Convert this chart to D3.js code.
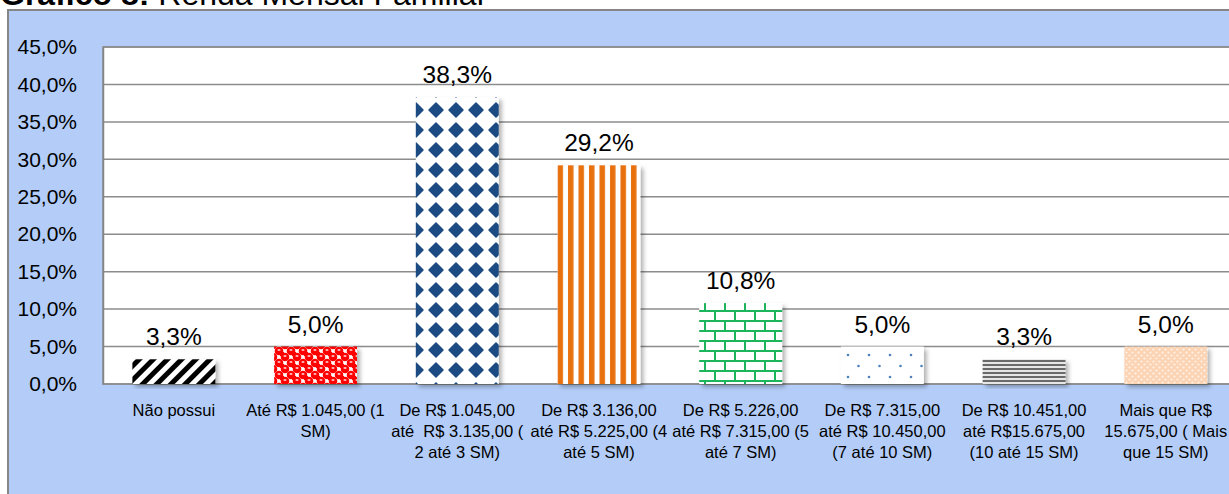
<!DOCTYPE html>
<html>
<head>
<meta charset="utf-8">
<script src="https://cdn.jsdelivr.net/npm/d3@7"></script>
<style>
  html, body { margin: 0; padding: 0; background: #fff; }
  svg { display: block; font-family: "Liberation Sans", Arial, sans-serif; }
</style>
</head>
<body>
<div id="chart"></div>
<script>
const categories = [
  "Não possui",
  "Até R$ 1.045,00 (1\nSM)",
  "De R$ 1.045,00\naté  R$ 3.135,00 (\n2 até 3 SM)",
  "De R$ 3.136,00\naté R$ 5.225,00 (4\naté 5 SM)",
  "De R$ 5.226,00\naté R$ 7.315,00 (5\naté 7 SM)",
  "De R$ 7.315,00\naté R$ 10.450,00\n(7 até 10 SM)",
  "De R$ 10.451,00\naté R$15.675,00\n(10 até 15 SM)",
  "Mais que R$\n15.675,00 ( Mais\nque 15 SM)"
];
const values = [3.3, 5.0, 38.3, 29.2, 10.8, 5.0, 3.3, 5.0];
const patternIds = ["diag", "redball", "diamond", "vstripe", "brick", "dots", "hlines", "peach"];
const yTicks = [0, 5, 10, 15, 20, 25, 30, 35, 40, 45];

const width = 1229, height = 494;
const fmt = v => v.toFixed(1).replace(".", ",") + "%";

const svg = d3.select("#chart").append("svg")
  .attr("width", width)
  .attr("height", height);

const defs = svg.append("defs");

// drop shadow like the excel bars
const shadow = defs.append("filter").attr("id", "shadow")
  .attr("x", "-10%").attr("y", "-10%").attr("width", "130%").attr("height", "130%");
shadow.append("feDropShadow")
  .attr("dx", 3).attr("dy", 3).attr("stdDeviation", 2)
  .attr("flood-color", "#000").attr("flood-opacity", 0.3);

function pattern(id, w, h, draw, transform) {
  const p = defs.append("pattern").attr("id", id)
    .attr("patternUnits", "userSpaceOnUse")
    .attr("width", w).attr("height", h);
  if (transform) p.attr("patternTransform", transform);
  draw(p);
}

// 1 - wide black diagonal stripes
pattern("diag", 10, 10, p => {
  p.append("rect").attr("width", 10).attr("height", 10).attr("fill", "#fff");
  p.append("rect").attr("width", 5).attr("height", 10).attr("fill", "#000");
}, "rotate(45)");

// 2 - red balls
pattern("redball", 12, 12, p => {
  p.append("rect").attr("width", 12).attr("height", 12).attr("fill", "#fff");
  [[3, 3], [9, 9], [9, -3], [-3, 9], [15, 3], [3, 15]].forEach(([cx, cy]) => {
    p.append("circle").attr("cx", cx).attr("cy", cy).attr("r", 4.3).attr("fill", "#f00");
  });
  p.append("rect").attr("x", 4).attr("y", 4).attr("width", 4).attr("height", 4).attr("fill", "#f00");
  [[3, 2], [9, 8]].forEach(([cx, cy]) => {
    p.append("ellipse").attr("cx", cx).attr("cy", cy).attr("rx", 1.6).attr("ry", 0.9).attr("fill", "#fbb");
  });
});

// 3 - blue diamonds
pattern("diamond", 20, 20, p => {
  p.append("rect").attr("width", 20).attr("height", 20).attr("fill", "#fff");
  p.append("polygon").attr("points", "10,3 17,10 10,17 3,10")
    .attr("fill", "#1f4b83").attr("stroke", "#1f4b83").attr("stroke-width", 1.5)
    .attr("stroke-linejoin", "round");
}, "translate(6,0)");

// 4 - orange vertical stripes
pattern("vstripe", 10.5, 10, p => {
  p.append("rect").attr("width", 10.5).attr("height", 10).attr("fill", "#fff");
  p.append("rect").attr("x", 1).attr("width", 5.5).attr("height", 10).attr("fill", "#e8700f");
});

// 5 - green bricks
pattern("brick", 20, 20, p => {
  p.append("rect").attr("width", 20).attr("height", 20).attr("fill", "#fff");
  const g = "#1db55c";
  p.append("rect").attr("y", 0).attr("width", 20).attr("height", 2).attr("fill", g);
  p.append("rect").attr("y", 10).attr("width", 20).attr("height", 2).attr("fill", g);
  p.append("rect").attr("x", 4).attr("y", 0).attr("width", 2).attr("height", 10).attr("fill", g);
  p.append("rect").attr("x", 14).attr("y", 10).attr("width", 2).attr("height", 10).attr("fill", g);
});

// 6 - sparse blue dots
pattern("dots", 21, 22, p => {
  p.append("rect").attr("width", 21).attr("height", 22).attr("fill", "#fff");
  p.append("circle").attr("cx", 8).attr("cy", 3).attr("r", 1.3).attr("fill", "#4f81bd");
  p.append("circle").attr("cx", 18.5).attr("cy", 14).attr("r", 1.3).attr("fill", "#4f81bd");
});

// 7 - gray horizontal lines
pattern("hlines", 10, 4, p => {
  p.append("rect").attr("width", 10).attr("height", 4).attr("fill", "#e6e6e6");
  p.append("rect").attr("y", 0).attr("width", 10).attr("height", 2).attr("fill", "#6b6b6b");
});

// 8 - peach with white dots
pattern("peach", 6, 6, p => {
  p.append("rect").attr("width", 6).attr("height", 6).attr("fill", "#fcd3b3");
  p.append("circle").attr("cx", 1.5).attr("cy", 1.5).attr("r", 1.1).attr("fill", "#fff3ea");
  p.append("circle").attr("cx", 4.5).attr("cy", 4.5).attr("r", 1.1).attr("fill", "#fff3ea");
});

// title (cut off at the top in the original)
const title = svg.append("text")
  .attr("x", 0).attr("y", 5)
  .attr("font-size", 32)
  .attr("fill", "#000");
title.append("tspan").attr("font-weight", "bold").text("Gráfico 8: ");
title.append("tspan").text("Renda Mensal Familiar");

// outer chart area
svg.append("rect")
  .attr("x", 8).attr("y", 10)
  .attr("width", width + 20).attr("height", height + 20)
  .attr("fill", "#b3cdf8")
  .attr("stroke", "#868686")
  .attr("stroke-width", 2);

const plot = { left: 103, top: 47, bottom: 384, step: 141.7 };

const x = d3.scaleBand()
  .domain(categories)
  .range([plot.left, plot.left + plot.step * categories.length])
  .paddingInner(0.415)
  .paddingOuter(0.2075);

const y = d3.scaleLinear()
  .domain([0, 45])
  .range([plot.bottom, plot.top]);

// plot area
svg.append("rect")
  .attr("x", plot.left).attr("y", plot.top)
  .attr("width", width - plot.left + 20).attr("height", plot.bottom - plot.top)
  .attr("fill", "#fff")
  .attr("stroke", "#868686")
  .attr("stroke-width", 1.5);

// gridlines
svg.append("g")
  .selectAll("line")
  .data(yTicks)
  .enter().append("line")
  .attr("x1", plot.left).attr("x2", width + 5)
  .attr("y1", d => y(d)).attr("y2", d => y(d))
  .attr("stroke", "#8c8c8c")
  .attr("stroke-width", 1.5);

// y axis
const yAxis = svg.append("g")
  .attr("transform", `translate(${plot.left},0)`)
  .call(d3.axisLeft(y).tickValues(yTicks).tickSize(0).tickPadding(26).tickFormat(fmt));
yAxis.select(".domain").attr("stroke", "#868686").attr("stroke-width", 1.5);
yAxis.selectAll("text")
  .attr("font-family", "Liberation Sans, Arial, sans-serif")
  .attr("font-size", 21)
  .attr("fill", "#000");

// bars
svg.append("g")
  .selectAll("rect")
  .data(values)
  .enter().append("rect")
  .attr("x", (d, i) => x(categories[i]))
  .attr("y", d => y(d))
  .attr("width", x.bandwidth())
  .attr("height", d => y(0) - y(d))
  .attr("fill", (d, i) => `url(#${patternIds[i]})`)
  .attr("filter", "url(#shadow)");

// value labels
svg.append("g")
  .selectAll("text")
  .data(values)
  .enter().append("text")
  .attr("x", (d, i) => x(categories[i]) + x.bandwidth() / 2)
  .attr("y", d => y(d) - 14)
  .attr("text-anchor", "middle")
  .attr("font-size", 24.5)
  .attr("fill", "#000")
  .text(fmt);

// category labels (multi line)
const xl = svg.append("g")
  .selectAll("text")
  .data(categories)
  .enter().append("text")
  .attr("x", d => x(d) + x.bandwidth() / 2)
  .attr("y", 416)
  .attr("text-anchor", "middle")
  .attr("font-size", 16.5)
  .attr("fill", "#000");
xl.each(function(d) {
  const t = d3.select(this);
  d.split("\n").forEach((line, k) => {
    t.append("tspan")
      .attr("x", t.attr("x"))
      .attr("dy", k === 0 ? 0 : 21)
      .attr("xml:space", "preserve")
      .text(line);
  });
});
</script>
</body>
</html>
